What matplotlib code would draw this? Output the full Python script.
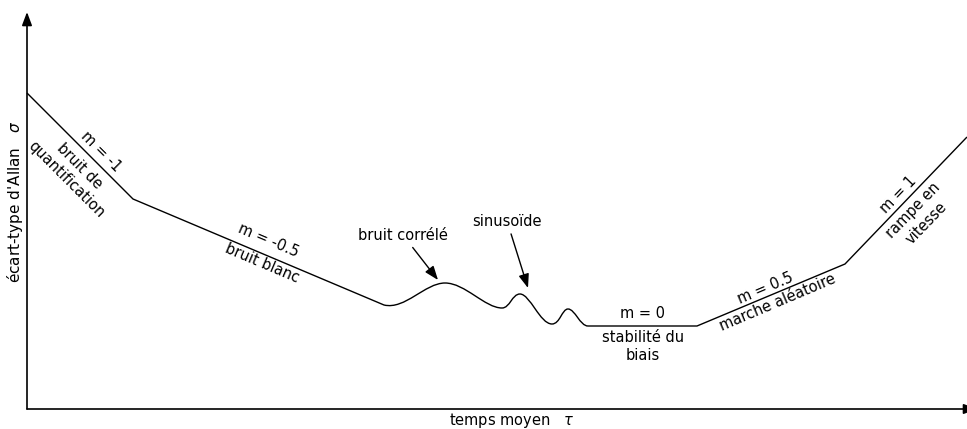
import matplotlib
matplotlib.use("Agg")
import matplotlib.pyplot as plt
from matplotlib.path import Path
import matplotlib.patches as patches

# straight parts of the Allan deviation sketch (tau, sigma), arbitrary units
slope_tau = [0, 106, 357]
slope_sigma = [316, 210, 104]

# bumps: correlated noise then sinusoid, cubic Bezier (c1, c2, end) triplets
bump_tau = [378, 398, 418, 438, 458, 475, 483, 485, 493,
            503, 513, 525, 533, 535, 541, 548, 553, 561]
bump_sigma = [99, 126, 126, 126, 101, 101, 101, 115, 115,
              115, 85, 85, 85, 100, 100, 100, 83, 83]

# flat part and rising branch
tail_tau = [670, 818, 940]
tail_sigma = [83, 145, 272]

labels = [
    # text, tau, sigma, angle
    ("m = -1", 74, 257, -45),
    ("bruit de\nquantification", 46, 236, -45),
    ("m = -0.5", 241, 169, -23),
    ("bruit blanc", 235, 146, -23),
    ("m = 0", 615, 96, 0),
    ("stabilité du\nbiais", 616, 63, 0),
    ("m = 0.5", 738, 121, 23),
    ("marche aléatoire", 751, 106, 23),
    ("m = 1", 871, 214, 46),
    ("rampe en\nvitesse", 893, 192, 46),
]

fig = plt.figure(figsize=(9.67, 4.29), dpi=100)
ax = fig.add_axes([27 / 967, 20 / 429, 940 / 967, 397 / 429])
ax.set_xlim(0, 940)
ax.set_ylim(0, 397)
ax.axis("off")

verts = list(zip(slope_tau, slope_sigma))
codes = [Path.MOVETO] + [Path.LINETO] * (len(slope_tau) - 1)
verts += list(zip(bump_tau, bump_sigma))
codes += [Path.CURVE4] * len(bump_tau)
verts += list(zip(tail_tau, tail_sigma))
codes += [Path.LINETO] * len(tail_tau)

curve = patches.PathPatch(Path(verts, codes), facecolor="none",
                          edgecolor="black", lw=1.0, clip_on=False)
ax.add_patch(curve)

# axes drawn as arrows
arrow = dict(arrowstyle="-|>,head_length=0.8,head_width=0.3", color="black",
             lw=1.2, shrinkA=0, shrinkB=0)
ax.annotate("", xy=(0, 397), xytext=(0, 0), arrowprops=arrow,
            annotation_clip=False)
ax.annotate("", xy=(950, 0), xytext=(0, 0), arrowprops=arrow,
            annotation_clip=False)

for text, x, y, ang in labels:
    ax.text(x, y, text, rotation=ang, rotation_mode="anchor",
            ha="center", va="center", fontsize=10.5, linespacing=1.25)

pointer = dict(arrowstyle="-|>,head_length=0.8,head_width=0.3", color="black",
               lw=1.0, shrinkA=2, shrinkB=0)
ax.annotate("bruit corrélé", xy=(411, 129), xytext=(376, 174),
            ha="center", va="center", fontsize=10.5, arrowprops=pointer)
ax.annotate("sinusoïde", xy=(501, 121), xytext=(480, 188),
            ha="center", va="center", fontsize=10.5, arrowprops=pointer)

ax.text(-12, 207, "écart-type d'Allan   $\\sigma$", rotation=90,
        ha="center", va="center", fontsize=11)
ax.text(485, -11, "temps moyen   $\\tau$", ha="center", va="center",
        fontsize=10.5)

fig.savefig("out.png", dpi=100)
